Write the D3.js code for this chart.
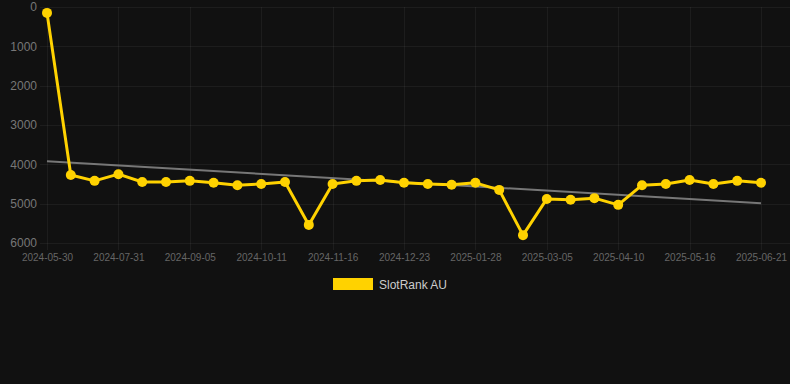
<!DOCTYPE html>
<html>
<head>
<meta charset="utf-8">
<script src="https://cdn.jsdelivr.net/npm/d3@7"></script>
<style>
  html, body { margin: 0; padding: 0; background: #111111; }
  svg { display: block; font-family: "Liberation Sans", Arial, sans-serif; }
</style>
</head>
<body>
<div id="chart"></div>
<script>
// dates (only every third one is shown on the axis)
const dates = [
  '2024-05-30', '2024-06-19', '2024-07-10', '2024-07-31', '2024-08-12', '2024-08-24',
  '2024-09-05', '2024-09-17', '2024-09-29', '2024-10-11', '2024-10-23', '2024-11-04',
  '2024-11-16', '2024-11-28', '2024-12-11', '2024-12-23', '2025-01-04', '2025-01-16',
  '2025-01-28', '2025-02-09', '2025-02-21', '2025-03-05', '2025-03-17', '2025-03-29',
  '2025-04-10', '2025-04-22', '2025-05-04', '2025-05-16', '2025-05-28', '2025-06-09',
  '2025-06-21'
];
const rankAU = [
  150, 4270, 4420, 4250, 4450, 4450, 4420, 4470, 4530, 4500, 4450, 5540,
  4500, 4420, 4400, 4470, 4500, 4520, 4470, 4650, 5800, 4880, 4900, 4860,
  5030, 4530, 4500, 4400, 4500, 4420, 4470
];
const yTicks = [0, 1000, 2000, 3000, 4000, 5000, 6000];
const seriesName = 'SlotRank AU';

const width = 790;
const height = 384;
const margin = { top: 7, right: 29, bottom: 141, left: 47 };

const svg = d3.select('#chart').append('svg')
    .attr('width', width)
    .attr('height', height);

const x = d3.scalePoint()
    .domain(d3.range(dates.length))
    .range([margin.left, width - margin.right]);

const y = d3.scaleLinear()
    .domain([0, 6000])
    .range([margin.top, height - margin.bottom]);

// grid
const grid = svg.append('g').attr('stroke', 'rgba(255,255,255,0.05)').attr('stroke-width', 1);
grid.selectAll('.hgrid')
    .data(yTicks)
    .enter().append('line')
    .attr('x1', 40).attr('x2', width)
    .attr('y1', d => Math.round(y(d)) + 0.5)
    .attr('y2', d => Math.round(y(d)) + 0.5);

const tickIdx = d3.range(0, dates.length, 3);
grid.selectAll('.vgrid')
    .data(tickIdx)
    .enter().append('line')
    .attr('x1', d => Math.round(x(d)) + 0.5)
    .attr('x2', d => Math.round(x(d)) + 0.5)
    .attr('y1', margin.top)
    .attr('y2', height - margin.bottom + 7);

// y axis labels
const yAxis = svg.append('g')
    .attr('transform', `translate(${margin.left - 10},0)`)
    .call(d3.axisLeft(y).tickValues(yTicks).tickSize(0).tickPadding(0).tickFormat(d3.format('d')));
yAxis.select('.domain').remove();
yAxis.selectAll('text')
    .attr('fill', '#777')
    .style('font-size', '12px');

// x axis labels
const xAxis = svg.append('g')
    .attr('transform', `translate(0,${height - margin.bottom + 9})`)
    .call(d3.axisBottom(x).tickValues(tickIdx).tickSize(0).tickPadding(2).tickFormat(i => dates[i]));
xAxis.select('.domain').remove();
xAxis.selectAll('text')
    .attr('fill', '#666')
    .style('font-size', '10px');

// trend line (least squares)
const n = rankAU.length;
const mx = d3.mean(d3.range(n));
const my = d3.mean(rankAU);
const slope = d3.sum(rankAU, (v, i) => (i - mx) * (v - my)) / d3.sum(d3.range(n), i => (i - mx) * (i - mx));
const b = my - slope * mx;
svg.append('line')
    .attr('x1', x(0)).attr('y1', y(b))
    .attr('x2', x(n - 1)).attr('y2', y(b + slope * (n - 1)))
    .attr('stroke', '#777')
    .attr('stroke-width', 2);

// series
const line = d3.line()
    .x((d, i) => x(i))
    .y(d => y(d));

svg.append('path')
    .datum(rankAU)
    .attr('fill', 'none')
    .attr('stroke', '#FFD200')
    .attr('stroke-width', 3)
    .attr('stroke-linejoin', 'round')
    .attr('d', line);

svg.selectAll('.pt')
    .data(rankAU)
    .enter().append('circle')
    .attr('cx', (d, i) => x(i))
    .attr('cy', d => y(d))
    .attr('r', 5)
    .attr('fill', '#FFD200');

// legend
const legend = svg.append('g').attr('transform', 'translate(333,278)');
legend.append('rect')
    .attr('width', 40).attr('height', 12)
    .attr('fill', '#FFD200');
legend.append('text')
    .attr('x', 46).attr('y', 11)
    .attr('fill', '#ccc')
    .style('font-size', '12px')
    .text(seriesName);
</script>
</body>
</html>
